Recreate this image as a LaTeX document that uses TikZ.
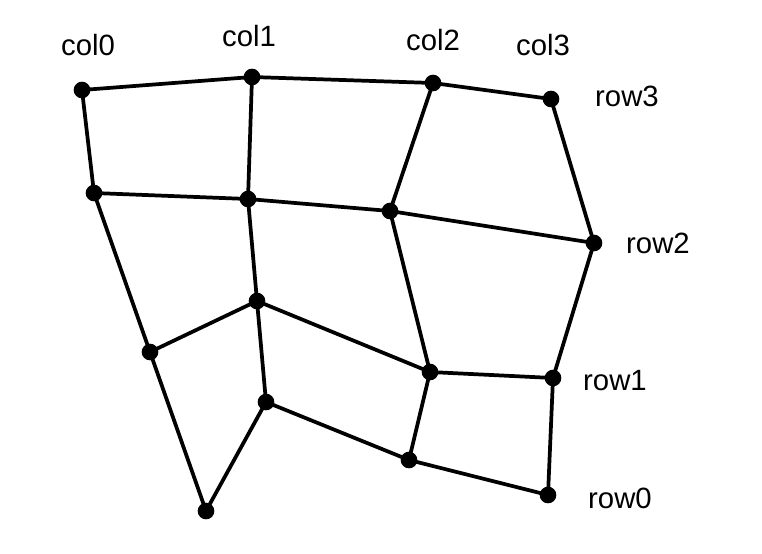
\documentclass[tikz,border=0pt]{standalone}
\usepackage{fontspec}
\setmainfont{Liberation Sans}
\tikzset{
  dot/.style = {circle, fill = black, inner sep = 0pt, minimum size = 12.5pt},
  lbl/.style = {font = \fontsize{22}{26}\selectfont, inner sep = 0pt},
  edge/.style = {line width = 2.8pt}
}
\begin{document}
\begin{tikzpicture}[x = 0.75pt, y = -0.75pt]
			\useasboundingbox (0,0) rectangle (762,553);
			
			% Row 3
			\node[dot] (r3c0) at (82,90) {};
			\node[dot] (r3c1) at (252,77) {};
			\node[dot] (r3c2) at (433,83) {};
			\node[dot] (r3c3) at (551,99) {};
			
			% Row 2
			\node[dot] (r2c0) at (94,193) {};
			\node[dot] (r2c1) at (248,199) {};
			\node[dot] (r2c2) at (390,211) {};
			\node[dot] (r2c3) at (594,243) {};
			
			% Row 1
			\node[dot] (r1c0) at (150,352) {};
			\node[dot] (r1c1) at (257,301) {};
			\node[dot] (r1c2) at (430,372) {};
			\node[dot] (r1c3) at (553,378) {};
			
			% Row 0
			\node[dot] (r0c0) at (206,511) {};
			\node[dot] (r0c1) at (266,402) {};
			\node[dot] (r0c2) at (409,460) {};
			\node[dot] (r0c3) at (548,495) {};
			
			% Labels
			\node[lbl] (lc0) at (88,45) {col0};
			\node[lbl] (lc1) at (249,36) {col1};
			\node[lbl] (lc2) at (433,40) {col2};
			\node[lbl] (lc3) at (543,45) {col3};
			\node[lbl] (lr3) at (627,96) {row3};
			\node[lbl] (lr2) at (658,243) {row2};
			\node[lbl] (lr1) at (615,381) {row1};
			\node[lbl] (lr0) at (620,498) {row0};
			
			% Edges
			\foreach \r in {0,...,3} {
				\draw[edge] (r\r c0.center) -- (r\r c1.center) -- (r\r c2.center) -- (r\r c3.center);
			}
			\foreach \c in {0,...,3} {
				\draw[edge] (r3c\c.center) -- (r2c\c.center) -- (r1c\c.center) -- (r0c\c.center);
			}
\end{tikzpicture}
\end{document}
